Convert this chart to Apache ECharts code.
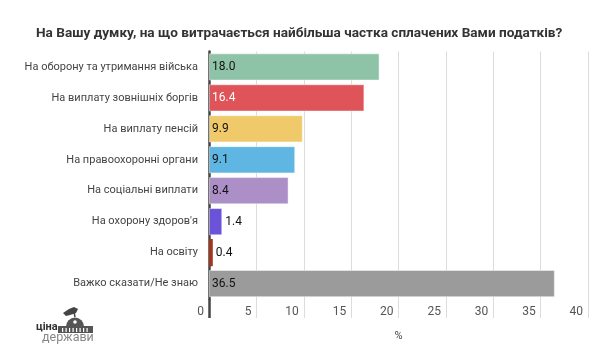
<!DOCTYPE html>
<html>
<head>
<meta charset="utf-8">
<script src="https://cdn.jsdelivr.net/npm/echarts@6/dist/echarts.min.js"></script>
<style>
  html, body { margin: 0; padding: 0; background: #fff; }
  #chart { width: 615px; height: 353px; }
</style>
</head>
<body>
<div id="chart"></div>
<script>
// Дані опитування
const categories = [
  "На оборону та утримання війська",
  "На виплату зовнішніх боргів",
  "На виплату пенсій",
  "На правоохоронні органи",
  "На соціальні виплати",
  "На охорону здоров'я",
  "На освіту",
  "Важко сказати/Не знаю"
];
const values = [18.0, 16.4, 9.9, 9.1, 8.4, 1.4, 0.4, 36.5];
const barColors = ["#8fc3a7", "#df5458", "#f0c96b", "#5fb6e3", "#ab8fc6", "#6b53d9", "#a2351b", "#9b9b9b"];
const labelColors = ["#111", "#fff", "#111", "#111", "#111", "#111", "#111", "#111"];
const xTicks = [0, 5, 10, 15, 20, 25, 30, 35, 40];

const chart = echarts.init(document.getElementById("chart"));

const barData = values.map((v, i) => ({
  value: v,
  itemStyle: { color: barColors[i], borderWidth: v < 1 ? 0 : 1 },
  label: v < 3
    ? { position: "right", distance: 3, color: labelColors[i] }
    : { position: "insideLeft", distance: 3, color: labelColors[i] }
}));

// колонки будівлі в логотипі
const columns = [];
for (let x = 62; x <= 88; x += 3.5) {
  columns.push({ type: "rect", shape: { x: x, y: 328, width: 1.2, height: 4 }, style: { fill: "#fff" } });
}

chart.setOption({
  animation: false,
  textStyle: { fontFamily: "Roboto, sans-serif" },
  title: {
    text: "На Вашу думку, на що витрачається найбільша частка сплачених Вами податків?",
    left: 31,
    top: 22,
    textStyle: { fontSize: 13.6, fontWeight: "bold", color: "#333", fontFamily: "Roboto" }
  },
  grid: { left: 209, right: 27, top: 51.5, bottom: 54, containLabel: false },
  xAxis: [
    {
      type: "value",
      min: 0,
      max: 40,
      interval: 5,
      name: "%",
      nameLocation: "middle",
      nameGap: 32,
      nameTextStyle: { fontSize: 11, color: "#444" },
      axisLine: { show: false },
      axisTick: { show: true, length: 19, lineStyle: { color: "#dcdcdc", width: 1 } },
      axisLabel: {
        color: "#555",
        fontSize: 12,
        align: "right",
        margin: 7,
        padding: [0, 5, 0, 0],
        customValues: xTicks
      },
      splitLine: { lineStyle: { color: "#dcdcdc", width: 1 } }
    },
    {
      // продовження темної осі під сіткою
      type: "value",
      min: 0,
      max: 40,
      position: "bottom",
      z: 5,
      axisLine: { show: false },
      axisLabel: { show: false },
      splitLine: { show: false },
      axisTick: { show: true, length: 19, customValues: [0], lineStyle: { color: "#444", width: 2.5 } }
    }
  ],
  yAxis: {
    type: "category",
    data: categories,
    inverse: true,
    z: 1,
    axisLine: { show: true, lineStyle: { color: "#444", width: 2.5 } },
    axisTick: { show: false },
    axisLabel: { color: "#444", fontSize: 11, margin: 11 }
  },
  series: [
    {
      type: "bar",
      z: 3,
      data: barData,
      barCategoryGap: "12%",
      itemStyle: { borderColor: "rgba(255,255,255,0.45)", borderWidth: 1 },
      label: { show: true, fontSize: 12, formatter: (p) => p.value.toFixed(1) }
    }
  ],
  graphic: [
    {
      type: "group",
      silent: true,
      children: [
        // пташка / прапор
        { type: "polygon", shape: { points: [[63, 313], [69, 309], [74, 307], [78, 309], [76, 313], [70, 315], [66, 316]] }, style: { fill: "#444" } },
        { type: "line", shape: { x1: 74, y1: 312, x2: 75, y2: 317 }, style: { stroke: "#444", lineWidth: 1.5 } },
        // купол
        { type: "sector", shape: { cx: 75, cy: 326.5, r0: 0, r: 9, startAngle: Math.PI, endAngle: 2 * Math.PI }, style: { fill: "#555" } },
        { type: "circle", shape: { cx: 75, cy: 322, r: 1.8 }, style: { fill: "#fff" } },
        // фасад
        { type: "rect", shape: { x: 58, y: 326, width: 35, height: 7 }, style: { fill: "#555" } },
        ...columns,
        { type: "text", x: 36, y: 322, style: { text: "ціна", font: "bold 11px Roboto", fill: "#333" } },
        { type: "text", x: 42, y: 331, style: { text: "держави", font: "12.5px Roboto", fill: "#888" } }
      ]
    }
  ]
});
</script>
</body>
</html>
